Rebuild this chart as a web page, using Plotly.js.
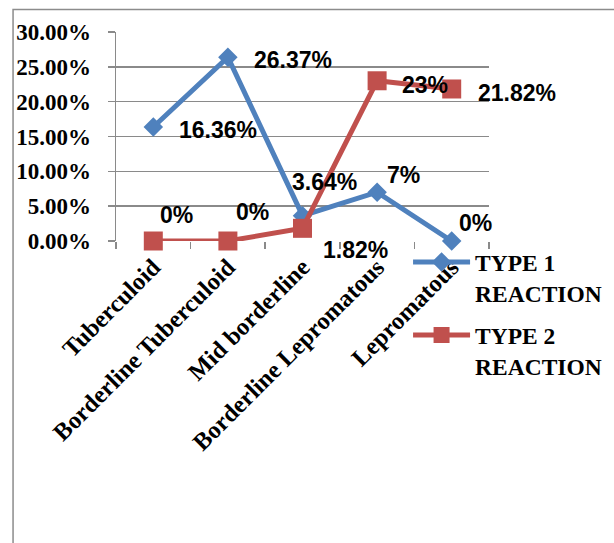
<!DOCTYPE html>
<html>
<head>
<meta charset="utf-8">
<script src="https://cdn.plot.ly/plotly-3.0.1.min.js"></script>
<style>
  html, body { margin: 0; padding: 0; background: #fff; overflow: hidden; }
  #chart { width: 614px; height: 543px; }
</style>
</head>
<body>
<div id="chart"></div>
<script>
// Leprosy spectrum categories and share of each reaction type (%)
const categories = ['Tuberculoid', 'Borderline Tuberculoid', 'Mid borderline', 'Borderline Lepromatous', 'Lepromatous'];
const type1Values = [16.36, 26.37, 3.64, 7, 0];
const type2Values = [0, 0, 1.82, 23, 21.82];
const type1Labels = ['16.36%', '26.37%', '3.64%', '7%', '0%'];
const type2Labels = ['0%', '0%', '1.82%', '23%', '21.82%'];
const seriesNames = ['TYPE 1<br>REACTION', 'TYPE 2<br>REACTION'];
const yTickValues = [0, 5, 10, 15, 20, 25, 30];
const yTickText = yTickValues.map(v => v.toFixed(2) + '%');

// label offsets in px (x to the right, y upward) from each point
const type1Offsets = [[24, -3], [24, -3], [-13, 34], [8, 17], [5, 18]];
const type2Offsets = [[5, 26], [6, 29], [18, -22], [23, -4], [24, -4]];

const blue = '#4F81BD';
const red = '#C0504D';
const grid = '#8A8A8A';
const serif = 'Liberation Serif';
const sans = 'Liberation Sans';

const traces = [
  {
    x: categories, y: type1Values, name: seriesNames[0], legendgroup: 't1',
    type: 'scatter', mode: 'lines+markers', cliponaxis: false,
    line: { color: blue, width: 5 },
    marker: { symbol: 'diamond', size: 15, color: blue }
  },
  {
    x: categories, y: type2Values, name: seriesNames[1], legendgroup: 't2',
    type: 'scatter', mode: 'lines+markers', cliponaxis: false,
    line: { color: red, width: 5 },
    marker: { symbol: 'square', size: 19, color: red }
  }
];

function labelNotes(values, labels, offsets) {
  return values.map((v, i) => ({
    x: categories[i], y: v, xref: 'x', yref: 'y',
    text: labels[i], showarrow: false,
    xanchor: 'left', yanchor: 'middle',
    xshift: offsets[i][0], yshift: offsets[i][1],
    font: { family: sans, size: 23, color: '#000', weight: 'bold' }
  }));
}

const layout = {
  width: 614, height: 543,
  font: { family: serif, color: '#000' },
  margin: { l: 116, r: 125, t: 31.5, b: 302, pad: 0, autoexpand: false },
  paper_bgcolor: '#fff', plot_bgcolor: '#fff',
  showlegend: true,
  xaxis: {
    type: 'category', range: [-0.5, 4.5], automargin: false,
    showgrid: false, zeroline: false,
    showline: false,
    ticks: 'outside', ticklen: 7, tickwidth: 1.5, tickcolor: grid,
    tickson: 'boundaries',
    tickangle: -45,
    ticklabelstandoff: 6,
    tickfont: { family: serif, size: 24.5, color: '#000', weight: 'bold' }
  },
  yaxis: {
    range: [0, 30], automargin: false,
    tickmode: 'array', tickvals: yTickValues, ticktext: yTickText,
    showgrid: true, gridcolor: grid, gridwidth: 1.5,
    zeroline: false,
    showline: true, linecolor: grid, linewidth: 1.5,
    ticks: 'outside', ticklen: 7, tickwidth: 1.5, tickcolor: grid,
    ticklabelstandoff: 12,
    tickfont: { family: serif, size: 23, color: '#000', weight: 'bold' }
  },
  legend: {
    x: 0.783, y: 0.004, xanchor: 'left', yanchor: 'top',
    bgcolor: 'rgba(0,0,0,0)', borderwidth: 0,
    valign: 'top', itemwidth: 57, tracegroupgap: 9,
    font: { family: serif, size: 23.5, color: '#000', weight: 'bold' }
  },
  shapes: [{
    type: 'rect', xref: 'paper', yref: 'paper',
    x0: -0.276, x1: 2, y0: -2, y1: 1.1074,
    line: { color: '#8C8C8C', width: 1.5 }, fillcolor: 'rgba(0,0,0,0)'
  }],
  annotations: labelNotes(type1Values, type1Labels, type1Offsets)
    .concat(labelNotes(type2Values, type2Labels, type2Offsets))
};

Plotly.newPlot('chart', traces, layout, { displayModeBar: false, staticPlot: true });
</script>
</body>
</html>
